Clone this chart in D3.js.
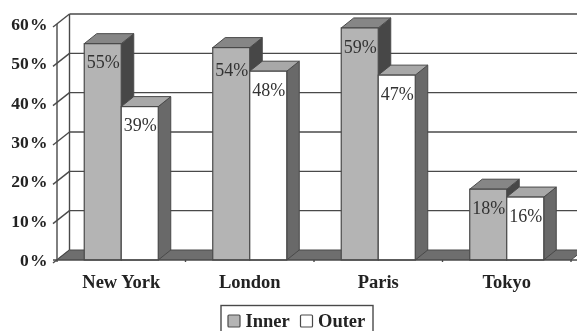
<!DOCTYPE html>
<html>
<head>
<meta charset="utf-8">
<script src="https://cdn.jsdelivr.net/npm/d3@7"></script>
<style>
	html, body { margin: 0; padding: 0; background: #fff; }
	svg { display: block; }
	text { font-family: "Liberation Serif", serif; fill: #222; }
	.tick-label { font-weight: bold; font-size: 17.5px; word-spacing: -3px; }
	.cat-label, .legend-label { font-weight: bold; font-size: 18.5px; }
	.value-label { font-size: 18px; fill: #333; }
</style>
</head>
<body>
<div id="graphic"></div>
<script>
const cities = ['New York', 'London', 'Paris', 'Tokyo'];
const seriesNames = ['Inner', 'Outer'];
const inner = [55, 54, 59, 18];
const outer = [39, 48, 47, 16];
const yTicks = [0, 10, 20, 30, 40, 50, 60];

const width = 577, height = 331;
const line = '#4a4a4a';
const front = { Inner: '#b4b4b4', Outer: '#ffffff' };
const top_ = { Inner: '#868686', Outer: '#a8a8a8' };
const side = { Inner: '#464646', Outer: '#696969' };

// 3d offset of the back wall
const dx = 12.5, dy = -10;

const x0 = d3.scaleBand().domain(cities).range([57, 571]).paddingInner(0.424).paddingOuter(0.212);
const x1 = d3.scaleBand().domain(seriesNames).range([0, x0.bandwidth()]);
const y = d3.scaleLinear().domain([0, 60]).range([260, 24]);

const svg = d3.select('#graphic').append('svg')
	.attr('width', width)
	.attr('height', height);

svg.append('defs').append('filter')
	.attr('id', 'soft')
	.append('feGaussianBlur')
	.attr('stdDeviation', 0.45);

const g = svg.append('g').attr('filter', 'url(#soft)');

function stroke(sel, w) {
	return sel.attr('stroke', line).attr('stroke-width', w || 1.4);
}

// back wall gridlines and their slanted part on the side wall
yTicks.forEach((t) => {
	if (t > 0) {
		stroke(g.append('line'))
			.attr('x1', x0.range()[0] + dx).attr('x2', width)
			.attr('y1', y(t) + dy).attr('y2', y(t) + dy);
	}
	stroke(g.append('line'))
		.attr('x1', x0.range()[0] - 4).attr('x2', x0.range()[0] + dx)
		.attr('y1', y(t) + 3).attr('y2', y(t) + dy);
});

// walls edges
stroke(g.append('line'))
	.attr('x1', x0.range()[0]).attr('x2', x0.range()[0])
	.attr('y1', y(60)).attr('y2', y(0));
stroke(g.append('line'))
	.attr('x1', x0.range()[0] + dx).attr('x2', x0.range()[0] + dx)
	.attr('y1', y(60) + dy).attr('y2', y(0) + dy);

// floor
stroke(g.append('path'), 1)
	.attr('fill', '#6e6e6e')
	.attr('d', d3.line()([
		[x0.range()[0], y(0)],
		[x0.range()[0] + dx, y(0) + dy],
		[x0.range()[1] + dx, y(0) + dy],
		[x0.range()[1], y(0)]
	]));

// bars
cities.forEach((city, i) => {
	[inner[i], outer[i]].forEach((v, s) => {
		const name = seriesNames[s];
		const left = x0(city) + x1(name);
		const right = left + x1.bandwidth();
		const barG = g.append('g');
		stroke(barG.append('path'), 1)
			.attr('fill', side[name])
			.attr('d', d3.line()([
				[right, y(v)], [right + dx, y(v) + dy], [right + dx, y(0) + dy], [right, y(0)]
			]) + 'Z');
		stroke(barG.append('path'), 1)
			.attr('fill', top_[name])
			.attr('d', d3.line()([
				[left, y(v)], [left + dx, y(v) + dy], [right + dx, y(v) + dy], [right, y(v)]
			]) + 'Z');
		stroke(barG.append('rect'), 1.2)
			.attr('x', left)
			.attr('y', y(v))
			.attr('width', x1.bandwidth())
			.attr('height', y(0) - y(v))
			.attr('fill', front[name]);
	});
});

// baseline and category ticks
stroke(g.append('line'))
	.attr('x1', x0.range()[0] - 4).attr('x2', width)
	.attr('y1', y(0)).attr('y2', y(0));
d3.range(cities.length + 1).forEach((i) => {
	const tx = x0.range()[0] + i * x0.step();
	stroke(g.append('line'))
		.attr('x1', tx).attr('x2', tx)
		.attr('y1', y(0)).attr('y2', y(0) + 2);
});

// value labels, the London inner one sits a little lower in the original
cities.forEach((city, i) => {
	[inner[i], outer[i]].forEach((v, s) => {
		const name = seriesNames[s];
		g.append('text')
			.attr('class', 'value-label')
			.attr('x', x0(city) + x1(name) + x1.bandwidth() / 2 + 0.5)
			.attr('y', y(v) + (city === 'London' && s === 0 ? 22 : 18.5))
			.attr('dy', '.35em')
			.attr('text-anchor', 'middle')
			.text(v + '%');
	});
});

// y tick labels
yTicks.forEach((t) => {
	g.append('text')
		.attr('class', 'tick-label')
		.attr('x', 47.5)
		.attr('y', y(t))
		.attr('dy', '.35em')
		.attr('text-anchor', 'end')
		.text(t + ' %');
});

// category labels
cities.forEach((city) => {
	g.append('text')
		.attr('class', 'cat-label')
		.attr('x', x0(city) + x0.bandwidth() / 2)
		.attr('y', 288)
		.attr('text-anchor', 'middle')
		.text(city);
});

// legend
const legend = g.append('g');
stroke(legend.append('rect'))
	.attr('x', 221).attr('y', 305.5)
	.attr('width', 152).attr('height', 30)
	.attr('fill', '#fff');
seriesNames.forEach((name, i) => {
	const lx = i === 0 ? 228 : 300.5;
	stroke(legend.append('rect'), 1.2)
		.attr('x', lx).attr('y', 315)
		.attr('width', 12).attr('height', 12)
		.attr('rx', 1)
		.attr('fill', front[name]);
	legend.append('text')
		.attr('class', 'legend-label')
		.attr('x', lx + 17.5)
		.attr('y', 327)
		.text(name);
});
</script>
</body>
</html>
